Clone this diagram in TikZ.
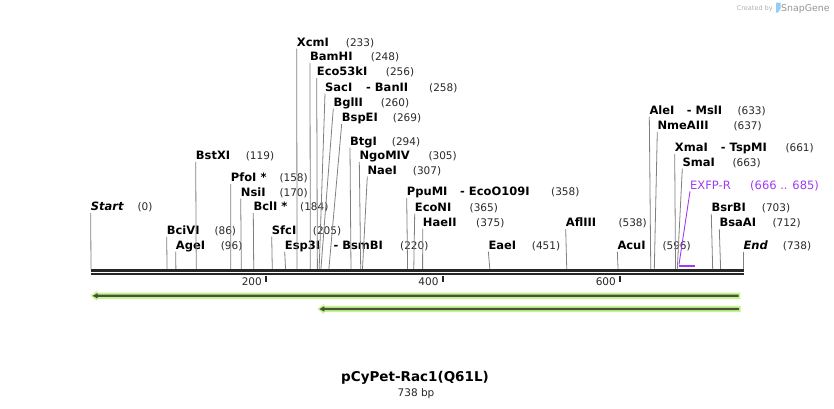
\documentclass[tikz,border=0pt]{standalone}
\usepackage{fontspec}
\setmainfont{DejaVu Sans}
\definecolor{linec}{RGB}{128,128,128}
\definecolor{numc}{RGB}{40,40,40}
\definecolor{axisc}{RGB}{38,38,38}
\definecolor{halo}{RGB}{195,245,140}
\definecolor{featc}{RGB}{72,82,60}
\definecolor{primc}{RGB}{160,60,240}
\definecolor{wmc}{RGB}{175,175,175}
\definecolor{wmblue}{RGB}{150,205,240}
\tikzset{
  nm/.style={anchor=base west, inner sep=0pt, font=\fontsize{11.5}{13}\selectfont\bfseries},
  nmi/.style={nm, font=\fontsize{11.5}{13}\selectfont\bfseries\itshape},
  num/.style={anchor=base west, inner sep=0pt, text=numc, font=\fontsize{10.5}{12}\selectfont},
  cut/.style={draw=linec, line width=0.8pt},
  tick/.style={draw=axisc, line width=1.7pt},
  ticklab/.style={anchor=base east, inner sep=0pt, text=numc, font=\fontsize{10.5}{12}\selectfont},
  prim/.style={anchor=base west, inner sep=0pt, text=primc, font=\fontsize{11.5}{13}\selectfont},
}
\begin{document}
\begin{tikzpicture}[x=1pt,y=-1pt]
\useasboundingbox (0,0) rectangle (834,408);

% watermark
\node[anchor=base west, inner sep=0pt, text=wmc, font=\fontsize{6.5}{8}\selectfont] (wm1) at (736.7,10) {Created by};
\fill[wmblue] (776,2.5) -- (780.5,2.5) -- (780.5,9) -- (778,12.5) -- (776,12.5) -- cycle;
\node[anchor=base west, inner sep=0pt, text=wmc!85!black, font=\fontsize{9.4}{11}\selectfont] (wm2) at (781,11) {SnapGene};

% features (behind)
\fill[halo] (740,292.7) -- (97,292.7) -- (97,290.8) -- (90.5,295.8) -- (97,300.8) -- (97,298.9) -- (740,298.9) -- cycle;
\fill[featc] (738.5,294.7) -- (97.5,294.7) -- (97.5,293.2) -- (92.5,295.8) -- (97.5,298.4) -- (97.5,296.9) -- (738.5,296.9) -- cycle;
\fill[halo] (740.7,305.9) -- (324,305.9) -- (324,304) -- (317.3,309) -- (324,314) -- (324,312.1) -- (740.7,312.1) -- cycle;
\fill[featc] (739,307.9) -- (324.3,307.9) -- (324.3,306.4) -- (319.3,309) -- (324.3,311.6) -- (324.3,310.1) -- (739,310.1) -- cycle;

% axis coordinates (position -> x)
\coordinate (aStart) at (91.0,269);
\coordinate (aBciVI) at (167.05,269);
\coordinate (aAgeI) at (175.89,269);
\coordinate (aBstXI) at (196.23,269);
\coordinate (aPfoI) at (230.72,269);
\coordinate (aNsiI) at (241.33,269);
\coordinate (aBclI) at (253.71,269);
\coordinate (aSfcI) at (272.28,269);
\coordinate (aEsp) at (285.55,269);
\coordinate (aXcmI) at (297.04,269);
\coordinate (aBamHI) at (310.31,269);
\coordinate (aEco) at (317.38,269);
\coordinate (aSacI) at (319.15,269);
\coordinate (aBglII) at (320.92,269);
\coordinate (aBspEI) at (328.88,269);
\coordinate (aBtgI) at (350.98,269);
\coordinate (aNgo) at (360.71,269);
\coordinate (aNaeI) at (362.48,269);
\coordinate (aPpu) at (407.58,269);
\coordinate (aEcoNI) at (413.77,269);
\coordinate (aHaeII) at (422.61,269);
\coordinate (aEaeI) at (489.82,269);
\coordinate (aAfl) at (566.75,269);
\coordinate (aAcuI) at (618.04,269);
\coordinate (aAleI) at (650.76,269);
\coordinate (aNme) at (654.30,269);
\coordinate (aXmaI) at (675.52,269);
\coordinate (aSmaI) at (677.29,269);
\coordinate (aBsrBI) at (712.66,269);
\coordinate (aBsaAI) at (720.62,269);
\coordinate (aEnd) at (743.3,269);

% labels
\node[nmi] (Start) at (90.7,210.7) {Start};
\node[num] (nStart) at (137.3,210.7) {(0)};
\node[nm] (BstXI) at (195.7,159.3) {BstXI};
\node[num] (nBstXI) at (245.7,159.3) {(119)};
\node[nm] (PfoI) at (230.7,181.7) {PfoI *};
\node[num] (nPfoI) at (279.3,181.7) {(158)};
\node[nm] (NsiI) at (240.7,196) {NsiI};
\node[num] (nNsiI) at (279.3,196) {(170)};
\node[nm] (BclI) at (253.3,210.7) {BclI *};
\node[num] (nBclI) at (300,210.7) {(184)};
\node[nm] (BciVI) at (166.7,234) {BciVI};
\node[num] (nBciVI) at (214.3,234) {(86)};
\node[nm] (AgeI) at (175.7,249) {AgeI};
\node[num] (nAgeI) at (220.7,249) {(96)};
\node[nm] (SfcI) at (271.7,234) {SfcI};
\node[num] (nSfcI) at (312.7,234) {(205)};
\node[nm] (Esp) at (284.7,249) {Esp3I};
\node[nm] (Bsm) at (333.3,249) {- BsmBI};
\node[num] (nEsp) at (400,249) {(220)};
\node[nm] (XcmI) at (296.7,46) {XcmI};
\node[num] (nXcmI) at (345.7,46) {(233)};
\node[nm] (BamHI) at (310,60.7) {BamHI};
\node[num] (nBamHI) at (370.7,60.7) {(248)};
\node[nm] (Eco) at (316.7,75.7) {Eco53kI};
\node[num] (nEco) at (385.7,75.7) {(256)};
\node[nm] (SacI) at (325,91) {SacI};
\node[nm] (BanII) at (366,91) {- BanII};
\node[num] (nSacI) at (429,91) {(258)};
\node[nm] (BglII) at (333.3,106) {BglII};
\node[num] (nBglII) at (380.7,106) {(260)};
\node[nm] (BspEI) at (341.7,121.3) {BspEI};
\node[num] (nBspEI) at (392.7,121.3) {(269)};
\node[nm] (BtgI) at (350,145) {BtgI};
\node[num] (nBtgI) at (391.7,145) {(294)};
\node[nm] (Ngo) at (359.3,159.3) {NgoMIV};
\node[num] (nNgo) at (428.3,159.3) {(305)};
\node[nm] (NaeI) at (367.3,174) {NaeI};
\node[num] (nNaeI) at (412.7,174) {(307)};
\node[nm] (Ppu) at (406.7,195.5) {PpuMI};
\node[nm] (EcoO) at (460,195.5) {- EcoO109I};
\node[num] (nPpu) at (551,195.5) {(358)};
\node[nm] (EcoNI) at (414.7,211) {EcoNI};
\node[num] (nEcoNI) at (469.5,211) {(365)};
\node[nm] (HaeII) at (422.7,226) {HaeII};
\node[num] (nHaeII) at (476,226) {(375)};
\node[nm] (EaeI) at (488.3,249) {EaeI};
\node[num] (nEaeI) at (531.7,249) {(451)};
\node[nm] (Afl) at (565.7,226.7) {AflIII};
\node[num] (nAfl) at (618.3,226.7) {(538)};
\node[nm] (AcuI) at (617.3,249) {AcuI};
\node[num] (nAcuI) at (662.3,249) {(596)};
\node[nm] (AleI) at (649.3,114) {AleI};
\node[nm] (MslI) at (686.7,114) {- MslI};
\node[num] (nAleI) at (737.3,114) {(633)};
\node[nm] (Nme) at (657.3,129.3) {NmeAIII};
\node[num] (nNme) at (733.3,129.3) {(637)};
\node[nm] (XmaI) at (674.7,151.7) {XmaI};
\node[nm] (TspMI) at (720.7,151.7) {- TspMI};
\node[num] (nXmaI) at (785.3,151.7) {(661)};
\node[nm] (SmaI) at (682.3,166) {SmaI};
\node[num] (nSmaI) at (732.3,166) {(663)};
\node[prim] (exfp) at (690,189.3) {EXFP-R};
\node[prim] (nexfp) at (750,189.3) {(666 .. 685)};
\node[nm] (BsrBI) at (711.3,211.7) {BsrBI};
\node[num] (nBsrBI) at (761.7,211.7) {(703)};
\node[nm] (BsaAI) at (719.3,226.7) {BsaAI};
\node[num] (nBsaAI) at (772.3,226.7) {(712)};
\node[nmi] (End) at (743.3,249) {End};
\node[num] (nEnd) at (782.7,249) {(738)};

% connectors
\foreach \n/\a in {Start/aStart, BstXI/aBstXI, PfoI/aPfoI, NsiI/aNsiI, BclI/aBclI,
  BciVI/aBciVI, AgeI/aAgeI, SfcI/aSfcI, Esp/aEsp, XcmI/aXcmI, BamHI/aBamHI,
  Eco/aEco, SacI/aSacI, BglII/aBglII, BspEI/aBspEI, BtgI/aBtgI, Ngo/aNgo,
  NaeI/aNaeI, Ppu/aPpu, EcoNI/aEcoNI, HaeII/aHaeII, EaeI/aEaeI, Afl/aAfl,
  AcuI/aAcuI, AleI/aAleI, Nme/aNme, XmaI/aXmaI, SmaI/aSmaI, BsrBI/aBsrBI,
  BsaAI/aBsaAI, End/aEnd}
  \draw[cut] ([yshift=-2.5pt]\n.base west) -- (\a);

% primer
\coordinate (pA) at (679,264.5);
\draw[primc, line width=0.9pt] ([yshift=-2pt]exfp.base west) -- (pA);
\draw[primc, line width=2pt] (678.7,265.6) -- (695,265.6);

% axis
\draw[axisc, line width=2.5pt] (90.5,270.3) -- (743.6,270.3);
\draw[axisc, line width=2.5pt] (90.5,274.2) -- (743.6,274.2);

% ticks
\coordinate (t200) at (265.7,275.5);
\coordinate (t400) at (442.7,275.5);
\coordinate (t600) at (620,275.5);
\draw[tick] (t200) -- ++(0,6.5);
\draw[tick] (t400) -- ++(0,6.5);
\draw[tick] (t600) -- ++(0,6.5);
\node[ticklab] (l200) at (262,285.7) {200};
\node[ticklab] (l400) at (438.7,285.7) {400};
\node[ticklab] (l600) at (616,285.7) {600};

% title
\node[anchor=base, inner sep=0pt, font=\fontsize{13.5}{15}\selectfont\bfseries] (title) at (415,381.5) {pCyPet-Rac1(Q61L)};
\node[anchor=base, inner sep=0pt, text=numc, font=\fontsize{10.5}{12}\selectfont] (len) at (416,396) {738 bp};
\end{tikzpicture}
\end{document}
